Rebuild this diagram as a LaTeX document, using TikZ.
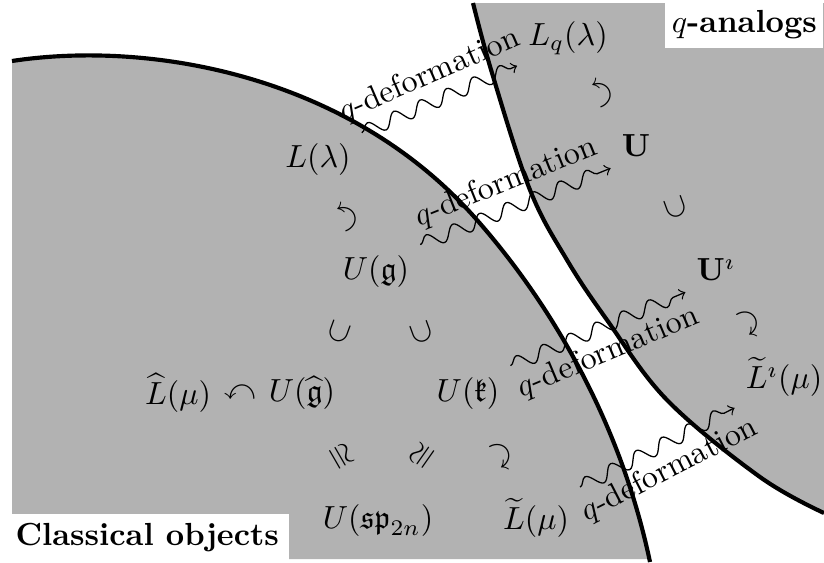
\documentclass[tikz,border=0pt]{standalone}
\usepackage{amsmath,amssymb}
\usetikzlibrary{decorations.pathmorphing}
\tikzset{
  region/.style={fill=black!30},
  rim/.style={line width=1.3pt},
  qdef/.style={->, decorate,
    decoration={snake, amplitude=2.2pt, segment length=9pt, post length=1.5pt}},
  tag/.style={fill=white, font=\bfseries, inner ysep=3pt},
  rel/.style={inner sep=0pt}
}
\begin{document}
\begin{tikzpicture}[x={(0.011cm,0cm)}, y={(0cm,-0.011cm)}]
  \useasboundingbox (0,0) rectangle (824,562);
  % Classical side and quantum side
  \fill[region] (12,559) -- (12,61) .. controls (150,40) and (350,75) .. (477,220)
    .. controls (550,303) and (620,420) .. (650,559) -- cycle;
  \fill[region] plot[smooth, tension=0.6] coordinates
    {(473,3) (492,73) (530,190) (567,260) (607,320) (667,400) (760,477) (824,513)} -- (824,3) -- cycle;
  % Boundaries of the two sides
  \draw[rim] (12,61) .. controls (150,40) and (350,75) .. (477,220)
    .. controls (550,303) and (620,420) .. (650,562);
  \draw[rim] plot[smooth, tension=0.6] coordinates
    {(473,3) (492,73) (530,190) (567,260) (607,320) (667,400) (760,477) (824,513)};
  % Corner titles
  \node[tag, inner xsep=2pt, anchor=north east] (qa) at (824,0) {$q$-analogs};
  \node[tag, inner xsep=3.1pt, anchor=south west] (co) at (5,562) {Classical objects};
  % Objects
  \node (Lq)   at (568,38)  {$L_q(\lambda)$};
  \node (L)    at (318,160) {$L(\lambda)$};
  \node (U)    at (636,146) {$\mathbf{U}$};
  \node (Ug)   at (376,272) {$U(\mathfrak{g})$};
  \node (Ui)   at (716,270) {$\mathbf{U}^\imath$};
  \node (Lhat) at (178,393) {$\widehat{L}(\mu)$};
  \node (Uhat) at (302,393) {$U(\widehat{\mathfrak{g}})$};
  \node (Uk)   at (468,393) {$U(\mathfrak{k})$};
  \node (Lti)  at (784,377) {$\widetilde{L}^\imath(\mu)$};
  \node (Usp)  at (378,520) {$U(\mathfrak{sp}_{2n})$};
  \node (Lt)   at (536,518) {$\widetilde{L}(\mu)$};
  % Relations between them
  \path (L.center) -- node[rel, rotate=-70] (actL) {$\curvearrowleft$} (Ug.center);
  \path (Lq.center) -- node[rel, rotate=-70] (actLq) {$\curvearrowleft$} (U.center);
  \path (Lhat.center) -- node[rel] (actLhat) {$\curvearrowleft$} (Uhat.center);
  \path (Uhat.center) -- node[rel, rotate=70] (subg) {$\subset$} (Ug.center);
  \path (Uk.center) -- node[rel, rotate=110] (subk) {$\subset$} (Ug.center);
  \path (Ui.center) -- node[rel, rotate=110] (subU) {$\subset$} (U.center);
  \path (Uhat.center) -- node[rel, rotate=-60] (isog) {$\cong$} (Usp.center);
  \path (Usp.center) -- node[rel, rotate=55] (isok) {$\cong$} (Uk.center);
  \path (Uk.center) -- node[rel, rotate=-60] (actk) {$\curvearrowright$} (Lt.center);
  \path (Ui.center) -- node[rel, rotate=-57] (actUi) {$\curvearrowright$} (Lti.center);
  % q-deformations
  \draw[qdef] (L.north east) -- (Lq.south west)
    node[midway, sloped, above] {$q$-deformation};
  \draw[qdef] (Ug.north east) -- (U.south west)
    node[midway, sloped, above] {$q$-deformation};
  \draw[qdef] (Uk.north east) -- (Ui.south west)
    node[midway, sloped, below] {$q$-deformation};
  \draw[qdef] (Lt.north east) -- (Lti.south west)
    node[midway, sloped, below] {$q$-deformation};
\end{tikzpicture}
\end{document}
